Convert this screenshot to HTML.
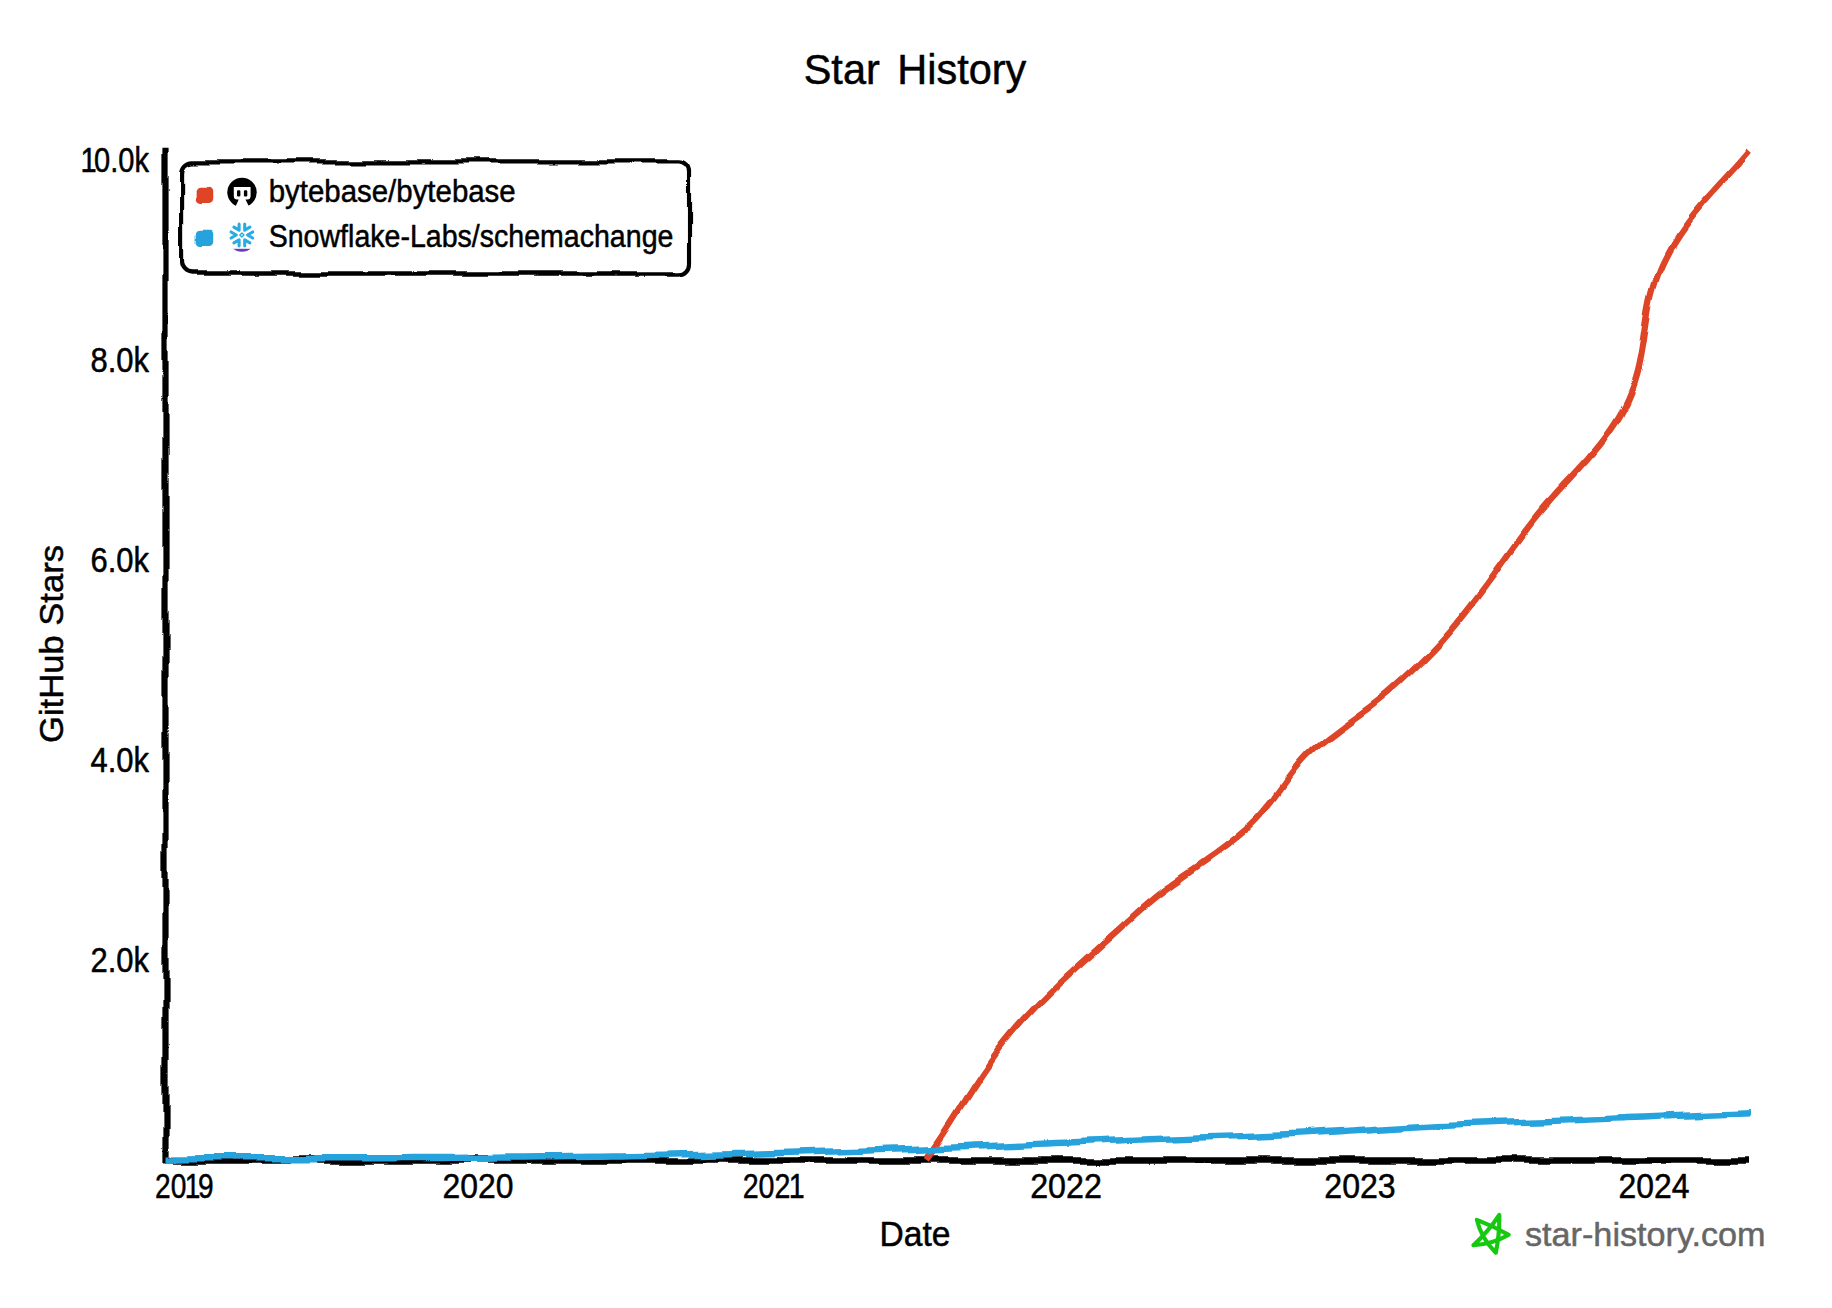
<!DOCTYPE html>
<html><head><meta charset="utf-8"><title>Star History</title>
<style>
html,body{margin:0;padding:0;background:#fff;}
svg{display:block;}
text{font-family:"Liberation Sans", "DejaVu Sans", sans-serif;stroke:#000;stroke-width:0.5px;stroke-linejoin:round;}
</style></head><body>
<svg width="1832" height="1308" viewBox="0 0 1832 1308">
<defs>
<filter id="xkcdify" filterUnits="userSpaceOnUse" x="-5" y="-5" width="900" height="650">
<feTurbulence type="fractalNoise" baseFrequency="0.05" result="noise"/>
<feDisplacementMap scale="5" xChannelSelector="R" yChannelSelector="G" in="SourceGraphic" in2="noise"/>
</filter>
</defs>
<rect width="1832" height="1308" fill="#fff"/>
<text x="915" y="84" font-size="42" text-anchor="middle" textLength="222.6" lengthAdjust="spacingAndGlyphs" stroke="#000" stroke-width="1.4" stroke-linejoin="round" word-spacing="6">Star History</text>
<text transform="translate(62.7,644) rotate(-90)" font-size="34" text-anchor="middle" textLength="198" lengthAdjust="spacingAndGlyphs">GitHub Stars</text>
<text x="915" y="1245.5" font-size="35" text-anchor="middle" textLength="71" lengthAdjust="spacingAndGlyphs">Date</text>
<text x="155" y="1198" font-size="35" dx="0 0 -2 -3" textLength="58.6" lengthAdjust="spacingAndGlyphs">2019</text>
<text x="478" y="1198" font-size="35" text-anchor="middle" textLength="71" lengthAdjust="spacingAndGlyphs">2020</text>
<text x="742.7" y="1198" font-size="35" dx="0 0 0 -2" textLength="62" lengthAdjust="spacingAndGlyphs">2021</text>
<text x="1066" y="1198" font-size="35" text-anchor="middle" textLength="71.7" lengthAdjust="spacingAndGlyphs">2022</text>
<text x="1360" y="1198" font-size="35" text-anchor="middle" textLength="71.4" lengthAdjust="spacingAndGlyphs">2023</text>
<text x="1654" y="1198" font-size="35" text-anchor="middle" textLength="71" lengthAdjust="spacingAndGlyphs">2024</text>
<text x="149" y="171.5" font-size="34.5" text-anchor="end" dx="0 -3 0 0 0" textLength="68.5" lengthAdjust="spacingAndGlyphs">10.0k</text>
<text x="149" y="371.5" font-size="34.5" text-anchor="end" textLength="58.5" lengthAdjust="spacingAndGlyphs">8.0k</text>
<text x="149" y="571.5" font-size="34.5" text-anchor="end" textLength="58.5" lengthAdjust="spacingAndGlyphs">6.0k</text>
<text x="149" y="771.5" font-size="34.5" text-anchor="end" textLength="58.5" lengthAdjust="spacingAndGlyphs">4.0k</text>
<text x="149" y="971.5" font-size="34.5" text-anchor="end" textLength="58.5" lengthAdjust="spacingAndGlyphs">2.0k</text>

<g transform="translate(165.5,1160.5) scale(2.075,2.155)"><path d="M0,0H763.61" stroke="#000" stroke-width="3" fill="none" filter="url(#xkcdify)"/></g>
<g transform="translate(165.5,150.0) scale(2.075,2.155)"><path d="M0,468.91V-1" stroke="#000" stroke-width="3" fill="none" filter="url(#xkcdify)"/></g>
<g transform="translate(165.5,150.0) scale(2.075,2.155)" fill="none" stroke-width="3">
<path d="M366.67,467.67C367.14,467.03 368.58,465.12 369.52,463.83C370.46,462.54 371.38,461.24 372.31,459.94C373.23,458.63 374.14,457.31 375.05,455.99C375.95,454.67 376.85,453.35 377.75,452.02C378.64,450.69 379.54,449.35 380.43,448.01C381.32,446.68 382.20,445.34 383.09,444.00C383.98,442.66 384.86,441.32 385.75,439.98C386.64,438.65 387.53,437.31 388.43,435.98C389.32,434.65 390.22,433.32 391.12,432.00C392.03,430.67 392.94,429.36 393.86,428.05C394.78,426.74 395.70,425.44 396.64,424.14C397.58,422.85 398.52,421.57 399.48,420.30C400.44,419.03 401.41,417.77 402.39,416.52C403.38,415.28 404.38,414.05 405.39,412.83C406.40,411.61 407.43,410.41 408.47,409.21C409.51,408.02 410.56,406.84 411.62,405.67C412.69,404.50 413.76,403.35 414.85,402.20C415.94,401.05 417.04,399.92 418.14,398.79C419.25,397.66 420.37,396.55 421.50,395.44C422.62,394.33 423.76,393.23 424.90,392.14C426.04,391.04 427.19,389.96 428.35,388.88C429.51,387.80 430.67,386.73 431.84,385.66C433.01,384.59 434.19,383.53 435.37,382.48C436.55,381.42 437.74,380.37 438.92,379.32C440.11,378.27 441.31,377.23 442.50,376.18C443.70,375.14 444.90,374.10 446.10,373.07C447.30,372.03 448.50,370.99 449.70,369.96C450.90,368.92 452.11,367.89 453.31,366.85C454.51,365.82 455.72,364.78 456.92,363.75C458.12,362.71 459.32,361.67 460.52,360.63C461.72,359.59 462.91,358.55 464.11,357.51C465.30,356.46 466.49,355.41 467.68,354.37C468.88,353.33 470.07,352.28 471.29,351.26C472.50,350.24 473.72,349.22 474.97,348.22C476.21,347.23 477.47,346.25 478.75,345.29C480.03,344.33 481.34,343.39 482.65,342.46C483.96,341.53 485.29,340.62 486.62,339.71C487.96,338.80 489.30,337.90 490.65,337.00C491.99,336.10 493.34,335.21 494.69,334.31C496.04,333.42 497.39,332.52 498.73,331.62C500.07,330.72 501.41,329.82 502.74,328.91C504.07,327.99 505.40,327.08 506.71,326.15C508.03,325.22 509.33,324.28 510.62,323.33C511.91,322.38 513.19,321.42 514.45,320.44C515.71,319.46 516.95,318.46 518.17,317.44C519.39,316.43 520.60,315.39 521.78,314.34C522.96,313.28 524.11,312.20 525.24,311.09C526.37,309.99 527.48,308.86 528.55,307.70C529.63,306.54 530.67,305.35 531.69,304.14C532.71,302.92 533.69,301.68 534.67,300.43C535.65,299.18 536.61,297.91 537.57,296.64C538.54,295.38 539.49,294.10 540.46,292.84C541.43,291.58 542.39,290.32 543.39,289.08C544.38,287.85 545.38,286.62 546.42,285.43C547.47,284.24 548.53,283.07 549.64,281.94C550.75,280.81 551.89,279.72 553.06,278.66C554.24,277.59 555.44,276.56 556.67,275.55C557.90,274.54 559.15,273.56 560.42,272.59C561.69,271.62 562.99,270.67 564.29,269.73C565.59,268.79 566.91,267.87 568.23,266.94C569.55,266.02 570.89,265.11 572.21,264.20C573.54,263.28 574.88,262.38 576.20,261.46C577.53,260.54 578.85,259.62 580.16,258.69C581.47,257.76 582.77,256.82 584.06,255.86C585.34,254.90 586.61,253.93 587.85,252.93C589.10,251.94 590.32,250.92 591.53,249.89C592.74,248.87 593.93,247.82 595.11,246.77C596.30,245.71 597.47,244.65 598.64,243.58C599.81,242.52 600.98,241.45 602.14,240.37C603.29,239.29 604.44,238.21 605.59,237.11C606.73,236.02 607.86,234.92 608.98,233.80C610.11,232.69 611.22,231.57 612.32,230.44C613.42,229.30 614.51,228.16 615.59,227.00C616.66,225.84 617.73,224.68 618.79,223.50C619.84,222.33 620.89,221.14 621.92,219.94C622.96,218.75 623.99,217.54 625.01,216.33C626.03,215.12 627.04,213.90 628.04,212.67C629.04,211.44 630.04,210.21 631.03,208.97C632.01,207.72 633.00,206.48 633.97,205.22C634.95,203.97 635.92,202.71 636.89,201.45C637.85,200.19 638.81,198.92 639.77,197.65C640.73,196.37 641.68,195.10 642.63,193.82C643.59,192.55 644.53,191.27 645.49,189.99C646.44,188.71 647.39,187.43 648.34,186.16C649.29,184.88 650.25,183.61 651.21,182.34C652.17,181.07 653.14,179.81 654.11,178.55C655.08,177.29 656.06,176.04 657.05,174.80C658.04,173.56 659.03,172.32 660.04,171.10C661.05,169.88 662.07,168.67 663.10,167.47C664.13,166.27 665.18,165.08 666.23,163.91C667.29,162.73 668.37,161.57 669.44,160.42C670.52,159.26 671.61,158.11 672.70,156.97C673.79,155.83 674.89,154.69 675.98,153.55C677.07,152.41 678.17,151.27 679.26,150.13C680.35,148.99 681.44,147.84 682.52,146.69C683.60,145.54 684.68,144.38 685.74,143.21C686.80,142.04 687.85,140.86 688.89,139.66C689.92,138.46 690.95,137.25 691.95,136.02C692.94,134.79 693.93,133.55 694.89,132.27C695.84,131.00 696.78,129.71 697.69,128.39C698.59,127.07 699.48,125.73 700.32,124.35C701.17,122.97 701.99,121.57 702.77,120.12C703.55,118.68 704.29,117.21 705.00,115.69C705.70,114.17 706.37,112.62 706.99,111.02C707.61,109.43 708.18,107.79 708.71,106.10C709.24,104.42 709.71,102.68 710.14,100.91C710.58,99.13 710.95,97.29 711.30,95.44C711.66,93.59 711.97,91.70 712.28,89.80C712.59,87.91 712.87,85.98 713.16,84.07C713.46,82.17 713.74,80.24 714.06,78.35C714.37,76.46 714.69,74.57 715.05,72.73C715.42,70.89 715.81,69.07 716.25,67.31C716.70,65.54 717.19,63.82 717.73,62.15C718.27,60.48 718.87,58.85 719.50,57.27C720.13,55.68 720.81,54.14 721.52,52.64C722.23,51.13 722.99,49.67 723.78,48.23C724.57,46.80 725.39,45.40 726.25,44.03C727.10,42.66 727.99,41.32 728.89,40.00C729.80,38.68 730.74,37.39 731.70,36.12C732.66,34.85 733.64,33.60 734.64,32.37C735.64,31.14 736.66,29.93 737.69,28.72C738.72,27.52 739.77,26.34 740.82,25.16C741.88,23.98 742.95,22.82 744.02,21.66C745.09,20.50 746.18,19.35 747.26,18.20C748.35,17.05 749.44,15.91 750.53,14.77C751.61,13.62 752.70,12.48 753.79,11.33C754.87,10.18 755.96,9.03 757.03,7.87C758.10,6.71 759.17,5.54 760.22,4.36C761.28,3.18 762.83,1.39 763.35,0.79" stroke="#dd4528" filter="url(#xkcdify)"/>
<path d="M0.00,468.09C1.43,468.07 5.72,467.96 8.58,467.92C11.44,467.89 14.30,467.89 17.16,467.89C20.02,467.88 22.88,467.89 25.74,467.89C28.60,467.89 31.46,467.89 34.32,467.89C37.18,467.89 40.04,467.89 42.90,467.89C45.76,467.89 48.62,467.89 51.48,467.89C54.34,467.89 57.20,467.89 60.06,467.89C62.92,467.89 65.78,467.89 68.64,467.89C71.50,467.89 74.36,467.89 77.22,467.89C80.08,467.89 82.94,467.89 85.80,467.89C88.66,467.89 91.52,467.89 94.38,467.89C97.24,467.89 100.10,467.89 102.96,467.89C105.82,467.88 108.68,467.86 111.54,467.84C114.40,467.82 117.26,467.80 120.12,467.78C122.98,467.77 125.84,467.75 128.70,467.73C131.56,467.72 134.42,467.70 137.28,467.69C140.14,467.67 143.00,467.66 145.86,467.65C148.72,467.63 151.58,467.62 154.44,467.60C157.30,467.59 160.16,467.57 163.02,467.56C165.88,467.54 168.74,467.53 171.60,467.51C174.46,467.49 177.32,467.47 180.18,467.45C183.04,467.43 185.90,467.41 188.76,467.38C191.62,467.36 194.48,467.33 197.34,467.30C200.20,467.27 203.06,467.24 205.92,467.21C208.78,467.17 211.64,467.14 214.50,467.10C217.36,467.06 220.22,467.01 223.08,466.97C225.94,466.93 228.80,466.88 231.66,466.83C234.52,466.78 237.38,466.73 240.24,466.67C243.10,466.62 245.96,466.57 248.82,466.51C251.68,466.45 254.54,466.39 257.40,466.33C260.26,466.27 263.12,466.20 265.98,466.14C268.84,466.08 271.70,466.01 274.56,465.94C277.42,465.87 280.28,465.80 283.14,465.73C286.00,465.66 288.86,465.59 291.72,465.52C294.58,465.45 297.44,465.37 300.30,465.30C303.16,465.22 306.02,465.15 308.88,465.07C311.74,464.99 314.60,464.92 317.46,464.84C320.32,464.76 323.18,464.68 326.04,464.60C328.90,464.52 331.76,464.44 334.62,464.35C337.48,464.27 340.34,464.18 343.20,464.10C346.06,464.01 348.92,463.92 351.78,463.83C354.64,463.73 357.50,463.64 360.36,463.54C363.22,463.45 366.08,463.35 368.94,463.24C371.80,463.14 374.66,463.03 377.52,462.93C380.38,462.82 383.24,462.71 386.10,462.60C388.96,462.48 391.82,462.37 394.68,462.25C397.54,462.14 400.40,462.02 403.26,461.90C406.12,461.79 408.98,461.67 411.84,461.55C414.70,461.43 417.56,461.31 420.42,461.19C423.28,461.07 426.14,460.95 429.00,460.83C431.86,460.71 434.72,460.59 437.58,460.47C440.44,460.35 443.30,460.23 446.16,460.12C449.02,460.00 451.88,459.89 454.74,459.77C457.60,459.66 460.46,459.55 463.32,459.44C466.18,459.33 469.04,459.22 471.90,459.12C474.76,459.01 477.62,458.91 480.48,458.81C483.34,458.71 486.20,458.62 489.06,458.53C491.92,458.43 494.78,458.34 497.64,458.25C500.50,458.16 503.36,458.08 506.22,457.99C509.08,457.90 511.94,457.81 514.80,457.71C517.66,457.62 520.52,457.53 523.38,457.42C526.24,457.32 529.10,457.22 531.96,457.10C534.82,456.99 537.68,456.87 540.54,456.74C543.40,456.61 546.26,456.47 549.12,456.32C551.98,456.17 554.84,456.01 557.70,455.84C560.56,455.68 563.42,455.50 566.28,455.32C569.14,455.14 572.00,454.95 574.86,454.77C577.72,454.59 580.58,454.40 583.44,454.22C586.30,454.04 589.16,453.86 592.02,453.69C594.88,453.52 597.74,453.36 600.60,453.21C603.46,453.05 606.32,452.91 609.18,452.77C612.04,452.64 614.90,452.51 617.76,452.38C620.62,452.26 623.48,452.14 626.34,452.03C629.20,451.91 632.06,451.81 634.92,451.70C637.78,451.59 640.64,451.49 643.50,451.39C646.36,451.30 649.22,451.20 652.08,451.10C654.94,451.01 657.80,450.91 660.66,450.82C663.52,450.72 666.38,450.63 669.24,450.53C672.10,450.44 674.96,450.34 677.82,450.24C680.68,450.14 683.54,450.04 686.40,449.93C689.25,449.82 692.11,449.71 694.97,449.60C697.83,449.49 700.69,449.37 703.55,449.26C706.41,449.14 709.27,449.02 712.13,448.91C714.99,448.79 717.85,448.67 720.71,448.55C723.57,448.44 726.43,448.32 729.29,448.21C732.15,448.09 735.01,447.98 737.87,447.87C740.73,447.76 743.59,447.66 746.45,447.56C749.31,447.46 752.17,447.36 755.03,447.27C757.89,447.18 762.18,447.05 763.61,447.01" stroke="#28a3dd" filter="url(#xkcdify)"/>
</g>
<g transform="translate(165.5,150.0) scale(2.075,2.155)">
<rect x="8" y="5.3" width="244.3" height="52" rx="5" ry="5" fill="#fff" fill-opacity="0.85" stroke="#000" stroke-width="2" filter="url(#xkcdify)"/>
<rect x="15" y="17" width="8" height="8" rx="2" ry="2" fill="#dd4528" filter="url(#xkcdify)"/>
<rect x="15" y="37" width="8" height="8" rx="2" ry="2" fill="#28a3dd" filter="url(#xkcdify)"/>
</g>
<g>
<circle cx="242" cy="192.35" r="14.7" fill="#000"/>
<path d="M233.8,187H250.6V196a3.5,3.5 0 0 1 -3.5,3.5H245.5L249.7,208H234.9L238.7,199.5H237.3a3.5,3.5 0 0 1 -3.5,-3.5Z" fill="#fff"/>
<rect x="237" y="190.3" width="3.4" height="6.2" rx="1.1" fill="#000"/>
<rect x="243.9" y="190.3" width="3.4" height="6.2" rx="1.1" fill="#000"/>
</g>
<clipPath id="sfclip"><circle cx="241.9" cy="237.3" r="14.5"/></clipPath>
<g clip-path="url(#sfclip)">
<rect x="226" y="248.8" width="32" height="6" fill="#6a3eb8"/>
</g>
<g fill="none" stroke="#2aabe2" stroke-width="3.1" stroke-linecap="round" stroke-linejoin="round">
<path d="M252.70,232.00L247.50,235.00L252.70,238.00"/>
<path d="M244.70,224.15L244.70,230.15L249.90,227.15"/>
<path d="M233.90,227.15L239.10,230.15L239.10,224.15"/>
<path d="M231.10,238.00L236.30,235.00L231.10,232.00"/>
<path d="M239.10,245.85L239.10,239.85L233.90,242.85"/>
<path d="M249.90,242.85L244.70,239.85L244.70,245.85"/>
<path d="M241.90,232.90l2.1,2.1l-2.1,2.1l-2.1,-2.1Z" stroke-width="1.4"/>
</g>
<text x="268.7" y="202" font-size="31" textLength="247" lengthAdjust="spacingAndGlyphs">bytebase/bytebase</text>
<text x="268.7" y="246.6" font-size="31" textLength="404.7" lengthAdjust="spacingAndGlyphs">Snowflake-Labs/schemachange</text>
<path d="M1499.3,1214.9Q1499.6,1235 1495.8,1252.7Q1481,1238 1476.9,1219.9Q1494,1226.5 1508.7,1234.8Q1492,1244.5 1473.4,1245.2Q1488.5,1231.5 1499.3,1214.9Z" fill="none" stroke="#17c811" stroke-width="4.2" stroke-linejoin="round" stroke-linecap="round"/>
<text x="1525" y="1246" font-size="34" fill="#666" stroke="#666" style="stroke:#666" textLength="240.6" lengthAdjust="spacingAndGlyphs">star-history.com</text>
</svg>
</body></html>
